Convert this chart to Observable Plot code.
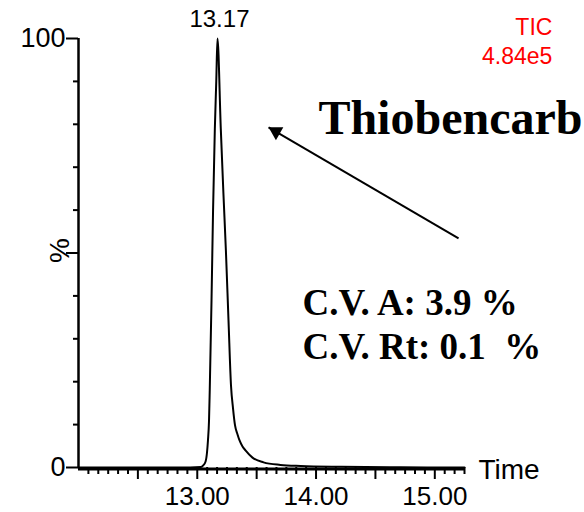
<!DOCTYPE html>
<html><head><meta charset="utf-8">
<script src="https://cdn.jsdelivr.net/npm/d3@7"></script>
<script src="https://cdn.jsdelivr.net/npm/@observablehq/plot@0.6"></script>
<style>
html,body{margin:0;padding:0;background:#fff;}
</style>
</head><body><div id="chart"></div>
<script>
// Chromatogram trace (retention time in min, relative intensity in %)
const retentionTime = [12.00, 12.60, 12.94, 13.03, 13.05, 13.07, 13.082, 13.09, 13.099, 13.105, 13.12, 13.133, 13.148, 13.16, 13.17,
  13.198, 13.22, 13.241, 13.263, 13.284, 13.301, 13.318, 13.339, 13.356, 13.381, 13.406, 13.465, 13.558, 13.70, 13.87, 14.21, 14.71, 15.25];
const intensity = [0, 0, 0, 0.1, 0.5, 1.4, 3.5, 6.3, 11, 18, 39, 60, 79, 90, 100,
  79, 64, 50.6, 34.3, 19.1, 13.8, 9.8, 7.7, 6.3, 4.9, 4.0, 2.3, 1.2, 0.6, 0.35, 0.16, 0.05, 0];

// Axis ticks
const xMajorTicks = [12.5, 13, 13.5, 14, 14.5, 15];
const xLabeledTicks = [13, 14, 15];
const xMinorTicks = d3.range(1, 40).filter(k => k % 6 !== 0).map(k => 12 + k / 12);
const yMajorTicks = [0, 50, 100];
const yLabeledTicks = [0, 100];
const yMinorTicks = [10, 20, 30, 40, 60, 70, 80, 90];

// Labels
const peakLabel = ["13.17"];
const peakLabelRt = [13.17];
const ticLabels = ["TIC", "4.84e5"];
const ticLabelX = [15.99, 15.99];
const ticLabelY = [102.6, 95.8];
const noteTexts = ["Thiobencarb", "C.V. A: 3.9 %", "C.V. Rt: 0.1\u00a0 %"];
const noteX = [14.02, 13.886, 13.886];
const noteY = [81.4, 38.2, 28.0];
const noteSizes = [48, 37, 37];
const arrowTail = [15.2, 53.4];
const arrowHead = [13.6, 79.3];

const trace = retentionTime.map((rt, i) => ({rt, value: intensity[i]}));
const notes = noteTexts.map((t, i) => ({t, x: noteX[i], y: noteY[i], s: noteSizes[i]}));
const tics = ticLabels.map((t, i) => ({t, x: ticLabelX[i], y: ticLabelY[i]}));

const serif = "'Liberation Serif', 'Times New Roman', serif";

const chart = Plot.plot({
  width: 584, height: 512,
  marginLeft: 78, marginRight: 120, marginTop: 38, marginBottom: 45,
  x: {domain: [12, 15.25], label: null},
  y: {domain: [0, 100], label: null},
  style: {fontFamily: "'Liberation Sans', Arial, sans-serif", background: "white", color: "black", overflow: "visible"},
  marks: [
    Plot.axisX(xMinorTicks, {tickSize: 7, tickFormat: () => "", strokeWidth: 2}),
    Plot.axisX(xMajorTicks, {tickSize: 12, tickPadding: 7, fontSize: 26, strokeWidth: 2,
      tickFormat: d => xLabeledTicks.includes(d) ? d.toFixed(2) : ""}),
    Plot.axisY(yMinorTicks, {tickSize: 5, tickFormat: () => "", strokeWidth: 2}),
    Plot.axisY(yMajorTicks, {tickSize: 12, tickPadding: 1, fontSize: 27, strokeWidth: 2,
      tickFormat: d => yLabeledTicks.includes(d) ? String(d) : ""}),
    Plot.ruleY([0], {x1: 12, x2: 15.25, strokeWidth: 3, dy: 1.5}),
    Plot.ruleX([12], {y1: 0, y2: 100, strokeWidth: 2.5}),
    Plot.line(trace, {x: "rt", y: "value", stroke: "black", strokeWidth: 2, curve: "monotone-x"}),
    Plot.text(peakLabel, {x: peakLabelRt, y: [100], text: d => d, fontSize: 24, dx: 2, dy: -12, lineAnchor: "bottom"}),
    Plot.text(["Time"], {x: [15.368], y: [-0.7], text: d => d, fontSize: 28, textAnchor: "start"}),
    Plot.text(["%"], {x: [11.848], y: [50.6], text: d => d, fontSize: 28, rotate: -90}),
    Plot.text(tics, {x: "x", y: "y", text: "t", fill: "#ff0000", fontSize: 23, textAnchor: "end"}),
    Plot.text(notes, {x: "x", y: "y", text: "t", fontSize: d => d.s, fontFamily: serif, fontWeight: "bold", textAnchor: "start"}),
    Plot.link([0], {x1: [arrowTail[0]], y1: [arrowTail[1]], x2: [arrowHead[0]], y2: [arrowHead[1]], stroke: "black", strokeWidth: 2}),
    Plot.dot([0], {x: [arrowHead[0]], y: [arrowHead[1]], symbol: "triangle", r: 5.5, fill: "black", stroke: "none", rotate: -60, dx: 7.4, dy: 4.3})
  ]
});
document.getElementById("chart").appendChild(chart);
</script>
</body></html>
